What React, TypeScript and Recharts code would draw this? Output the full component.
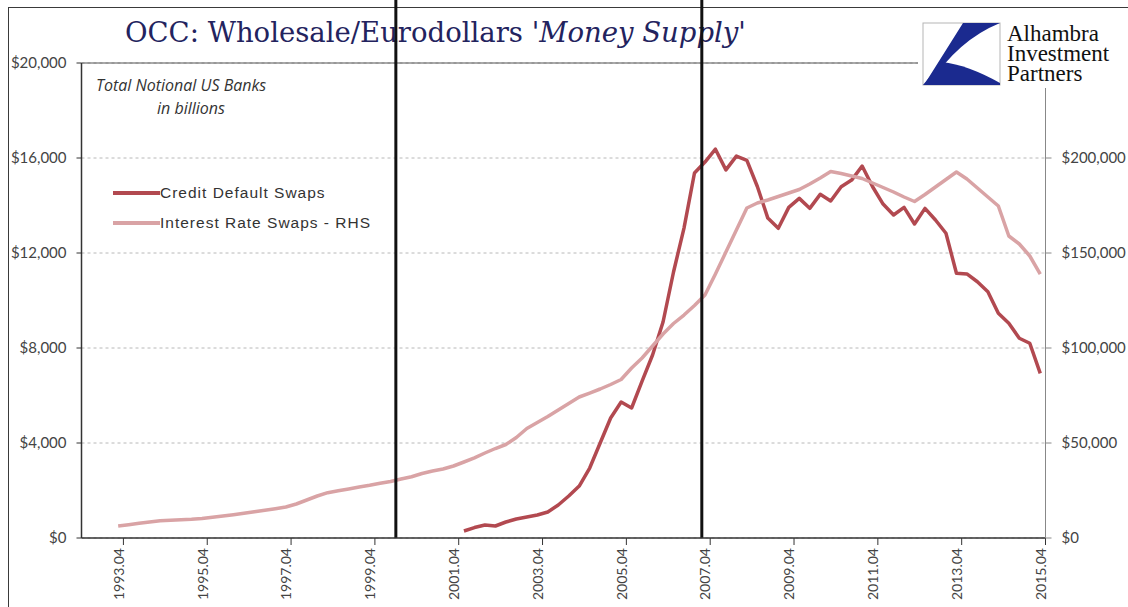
import { LineChart, Line, XAxis, YAxis, CartesianGrid, ReferenceLine, Legend } from "recharts"

// quarterly categories 1993.01 .. 2015.04
const firstYear = 1993
const lastYear = 2015
const quarters: string[] = []
for (let y = firstYear; y <= lastYear; y++) {
  for (let q = 1; q <= 4; q++) quarters.push(`${y}.0${q}`)
}

const tickLabels = [
  "1993.04", "1995.04", "1997.04", "1999.04", "2001.04", "2003.04",
  "2005.04", "2007.04", "2009.04", "2011.04", "2013.04", "2015.04",
]

const leftTicks = [0, 4000, 8000, 12000, 16000, 20000]
const rightTicks = [0, 50000, 100000, 150000, 200000]

// Credit default swaps, $bn, from 2002.01
const cdsStart = "2002.01"
const cdsValues = [
  295, 440, 547, 505, 674, 800, 884, 968, 1095, 1390, 1768, 2189, 2947, 4000,
  5053, 5726, 5474, 6610, 7705, 9095, 11200, 13050, 15370, 15830, 16370, 15500,
  16080, 15900, 14800, 13470, 13040, 13920, 14300, 13880, 14470, 14190, 14790,
  15070, 15660, 14790, 14060, 13600, 13920, 13220, 13880, 13390, 12830, 11150,
  11120, 10790, 10370, 9460, 9040, 8410, 8200, 6930,
]

// Interest rate swaps, $bn (right axis), from 1993.04
const irsStart = "1993.04"
const irsValues = [
  6320, 7000, 7740, 8420, 9050, 9320, 9580, 9840, 10260, 10890, 11580, 12260,
  13000, 13840, 14580, 15420, 16320, 17900, 20000, 22100, 23840, 24840, 25790,
  26840, 27740, 28790, 29740, 31050, 32260, 33950, 35260, 36310, 37890, 40000,
  42210, 44740, 47100, 49210, 52890, 57630, 60790, 63940, 67370, 70790, 74210,
  76310, 78420, 80790, 83420, 89470, 94730, 101050, 107370, 112890, 117360,
  122360, 127890, 138940, 150520, 162100, 173680, 176310, 177890, 179730,
  181570, 183410, 186310, 189470, 192890, 191840, 190520, 189210, 186840,
  184470, 182100, 179470, 177100, 180780, 184730, 188680, 192630, 188940,
  184210, 179470, 174730, 158940, 154730, 148420, 138940,
]

// the two black event lines, in quarter positions on the x axis
const eventMarks = [30, 59.2]

const CDS_COLOR = "#b24950"
const IRS_COLOR = "#d9a3a5"

const W = 1128
const H = 607
const PLOT_LEFT = 81.5
const PLOT_RIGHT = 1045.5
const halfBand = (PLOT_RIGHT - PLOT_LEFT) / quarters.length / 2

const cdsOffset = quarters.indexOf(cdsStart)
const irsOffset = quarters.indexOf(irsStart)

const rows = quarters.map((label, i) => ({
  label,
  pos: i + 0.5,
  cds: i >= cdsOffset ? cdsValues[i - cdsOffset] ?? null : null,
  irs: i >= irsOffset ? irsValues[i - irsOffset] ?? null : null,
}))

// tick marks sit on the boundary after each labelled quarter
const tickPositions = tickLabels.map((l) => quarters.indexOf(l) + 1)

const money = (v: number) => "$" + v.toLocaleString("en-US")

const QuarterTick = ({ x, y, payload }: any) => {
  const label = quarters[payload.value - 1]
  return (
    <g transform={`translate(${x - halfBand},${y})`}>
      <text
        transform="rotate(-90)"
        textAnchor="end"
        dominantBaseline="central"
        fontFamily="Lato"
        fontSize={14}
        fill="#444"
      >
        {label}
      </text>
    </g>
  )
}

const LegendBox = ({ payload }: any) => (
  <div>
    {(payload || []).map((p: any) => (
      <div key={p.value} style={{ display: "flex", alignItems: "center", height: 30 }}>
        <span style={{ display: "inline-block", width: 47, height: 4, background: p.color }} />
        <span
          style={{
            fontFamily: "Liberation Sans",
            fontSize: 15.5,
            letterSpacing: 1,
            color: "#333",
            whiteSpace: "nowrap",
          }}
        >
          {p.value}
        </span>
      </div>
    ))}
  </div>
)

export default function App() {
  return (
    <div
      style={{
        position: "absolute",
        left: 0,
        top: 0,
        width: W,
        height: H,
        overflow: "hidden",
        background: "#fff",
      }}
    >
      <div
        style={{
          position: "absolute",
          left: 8,
          top: 7,
          width: 1300,
          height: 800,
          borderLeft: "1.5px solid #3a3a3a",
          borderTop: "1.5px solid #3a3a3a",
        }}
      />
      <svg width={W} height={H} style={{ position: "absolute", left: 0, top: 0 }}>
        <text x={125} y={42} fontFamily="DejaVu Serif" fontSize={27.5} fill="#23235e">
          OCC: Wholesale/Eurodollars <tspan fontStyle="italic">'Money Supply'</tspan>
        </text>
        <text x={96} y={91} fontFamily="Open Sans" fontStyle="italic" fontSize={16} fill="#333">
          Total Notional US Banks
        </text>
        <text x={191} y={114} textAnchor="middle" fontFamily="Open Sans" fontStyle="italic" fontSize={16} fill="#333">
          in billions
        </text>
      </svg>
      <div style={{ position: "absolute", left: 0, top: 0 }}>
        <LineChart width={W} height={H} data={rows} margin={{ top: 63, right: 7.5, bottom: 9, left: 7.5 }}>
          <CartesianGrid yAxisId="left" vertical={false} stroke="#b8b8b8" strokeDasharray="3 3" />
          <XAxis
            type="number"
            dataKey="pos"
            domain={[0, quarters.length]}
            ticks={tickPositions}
            interval={0}
            height={60}
            tickSize={7}
            tickMargin={3}
            tick={<QuarterTick />}
            axisLine={{ stroke: "#333", strokeWidth: 1.5 }}
            tickLine={{ stroke: "#333" }}
          />
          <YAxis
            yAxisId="left"
            width={74}
            domain={[0, 20000]}
            ticks={leftTicks}
            interval={0}
            tickFormatter={money}
            tickSize={5}
            tickMargin={10}
            tick={{ fontFamily: "Lato", fontSize: 15, fill: "#444" }}
            axisLine={{ stroke: "#333", strokeWidth: 1.5 }}
            tickLine={{ stroke: "#333" }}
          />
          <YAxis
            yAxisId="right"
            orientation="right"
            width={75}
            domain={[0, 250000]}
            ticks={rightTicks}
            interval={0}
            tickFormatter={money}
            tickSize={6}
            tickMargin={10}
            tick={{ fontFamily: "Lato", fontSize: 15, fill: "#444" }}
            axisLine={{ stroke: "#888" }}
            tickLine={{ stroke: "#888" }}
          />
          <ReferenceLine yAxisId="left" y={20000} stroke="#555" strokeWidth={1.2} />
          <Line
            yAxisId="left"
            type="linear"
            dataKey="cds"
            name="Credit Default Swaps"
            stroke={CDS_COLOR}
            strokeWidth={3.5}
            strokeLinejoin="round"
            dot={false}
            isAnimationActive={false}
          />
          <Line
            yAxisId="right"
            type="linear"
            dataKey="irs"
            name="Interest Rate Swaps - RHS"
            stroke={IRS_COLOR}
            strokeWidth={3.5}
            strokeLinejoin="round"
            dot={false}
            isAnimationActive={false}
          />
          {eventMarks.map((m) => (
            <ReferenceLine
              key={m}
              yAxisId="left"
              ifOverflow="visible"
              segment={[
                { x: m, y: 0 },
                { x: m, y: 23000 },
              ]}
              stroke="#111"
              strokeWidth={3}
            />
          ))}
          <Legend
            layout="vertical"
            align="center"
            verticalAlign="middle"
            wrapperStyle={{ left: 113, top: 178, width: 300, height: 60 }}
            content={<LegendBox />}
          />
        </LineChart>
      </div>
      <svg width={210} height={78} style={{ position: "absolute", left: 918, top: 10 }}>
        <rect x={0} y={0} width={210} height={78} fill="#fff" />
        <rect x={5} y={13} width={77} height={62} fill="#fff" stroke="#b5b5b5" strokeWidth={1} />
        <path d="M 45 13 L 82 13 Q 40 30 11 75 L 6 75 Z" fill="#1b2a8f" />
        <path d="M 24 52 Q 50 55 82 73 L 82 75 L 5 75 Z" fill="#1b2a8f" />
        <g fontFamily="Liberation Serif" fontSize={23} fill="#111">
          <text x={89} y={31}>Alhambra</text>
          <text x={89} y={51}>Investment</text>
          <text x={89} y={71}>Partners</text>
        </g>
      </svg>
    </div>
  )
}
